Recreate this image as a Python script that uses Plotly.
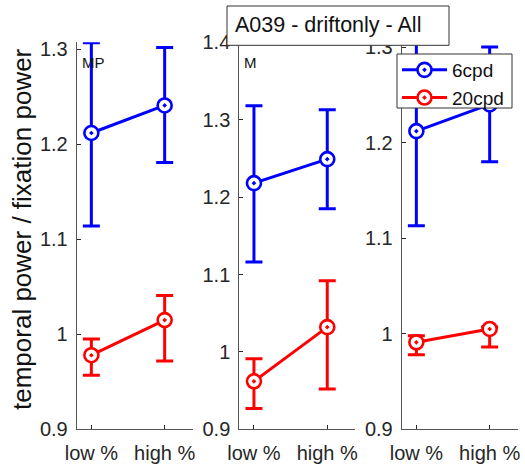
import plotly.graph_objects as go

# Condition groups on the x axis
x_pos = [1, 2]
x_labels = ["low %", "high %"]
panels = ["MP", "M"]

# Mean ratio (temporal power / fixation power) per panel, low % then high %
mp_6cpd = [1.212, 1.241]
mp_6cpd_up = [0.095, 0.061]
mp_6cpd_dn = [0.098, 0.060]
mp_20cpd = [0.978, 1.015]
mp_20cpd_up = [0.017, 0.026]
mp_20cpd_dn = [0.021, 0.043]

m_6cpd = [1.218, 1.249]
m_6cpd_up = [0.100, 0.064]
m_6cpd_dn = [0.102, 0.064]
m_20cpd = [0.962, 1.032]
m_20cpd_up = [0.029, 0.060]
m_20cpd_dn = [0.035, 0.080]

p_6cpd = [1.212, 1.240]
p_6cpd_up = [0.093, 0.060]
p_6cpd_dn = [0.099, 0.060]
p_20cpd = [0.991, 1.005]
p_20cpd_up = [0.007, 0.002]
p_20cpd_dn = [0.013, 0.019]

# y-axis limits and ticks per panel
y_ranges = [[0.9, 1.3075], [0.9, 1.4], [0.9, 1.305]]
y_ticks = [
    [0.9, 1.0, 1.1, 1.2, 1.3],
    [0.9, 1.0, 1.1, 1.2, 1.3, 1.4],
    [0.9, 1.0, 1.1, 1.2, 1.3],
]
y_ticktext = [
    ["0.9", "1", "1.1", "1.2", "1.3"],
    ["0.9", "1", "1.1", "1.2", "1.3", "1.4"],
    ["0.9", "1", "1.1", "1.2", "1.3"],
]

W, H = 525, 464
FONT = "Liberation Sans, Arial, Helvetica, sans-serif"
AX = "#262626"
BLUE = "#0000ff"
RED = "#ff0000"

# pixel boxes of the three axes (left, right, top, bottom)
boxes = [(76.7, 193.0, 42.3, 429.3), (239.3, 355.0, 42.3, 429.3), (401.7, 517.7, 42.3, 429.3)]

series = [
    [(mp_6cpd, mp_6cpd_up, mp_6cpd_dn), (mp_20cpd, mp_20cpd_up, mp_20cpd_dn)],
    [(m_6cpd, m_6cpd_up, m_6cpd_dn), (m_20cpd, m_20cpd_up, m_20cpd_dn)],
    [(p_6cpd, p_6cpd_up, p_6cpd_dn), (p_20cpd, p_20cpd_up, p_20cpd_dn)],
]
names = ["6cpd", "20cpd"]
colors = [BLUE, RED]

fig = go.Figure()
for i, panel in enumerate(series):
    xa = "x" if i == 0 else f"x{i+1}"
    ya = "y" if i == 0 else f"y{i+1}"
    for j, (mean, up, dn) in enumerate(panel):
        fig.add_trace(go.Scatter(
            x=x_pos, y=mean, xaxis=xa, yaxis=ya,
            mode="lines+markers", name=names[j],
            showlegend=(i == 0), legendgroup=names[j],
            line=dict(color=colors[j], width=3),
            marker=dict(symbol="circle-dot", size=14, color="white",
                        line=dict(color=colors[j], width=2.6)),
            error_y=dict(type="data", symmetric=False, array=up, arrayminus=dn,
                         color=colors[j], thickness=3, width=8.5),
        ))

# legend frame (white box); the legend itself is drawn transparent on top of it
LEG = (397, 512, 54, 108)

layout = dict(
    width=W, height=H,
    margin=dict(l=0, r=0, t=0, b=0, autoexpand=False),
    paper_bgcolor="white", plot_bgcolor="white",
    font=dict(family=FONT, size=20, color=AX),
    showlegend=True,
    legend=dict(x=LEG[0] / W, y=1 - (LEG[2] - 3) / H, xanchor="left", yanchor="top",
                bgcolor="rgba(0,0,0,0)", borderwidth=0,
                font=dict(family=FONT, size=19, color="#111111"),
                itemwidth=45, tracegroupgap=0),
)

for i, (l, r, t, b) in enumerate(boxes):
    sx = "" if i == 0 else str(i + 1)
    layout[f"xaxis{sx}"] = dict(
        domain=[l / W, r / W], range=[0.8, 0.8 + (r - l) / 73.3],
        anchor=f"y{sx}", tickmode="array", tickvals=x_pos, ticktext=x_labels,
        ticks="inside", ticklen=4, tickcolor=AX, showline=True, linecolor="#555555",
        linewidth=1, showgrid=False, zeroline=False, ticklabelstandoff=6,
        tickfont=dict(family=FONT, size=20, color=AX), fixedrange=True,
    )
    layout[f"yaxis{sx}"] = dict(
        domain=[1 - b / H, 1 - t / H], range=y_ranges[i],
        anchor=f"x{sx}", tickmode="array", tickvals=y_ticks[i], ticktext=y_ticktext[i],
        ticks="inside", ticklen=4, tickcolor=AX, showline=True, linecolor="#555555",
        linewidth=1, showgrid=False, zeroline=False, ticklabelstandoff=4,
        tickfont=dict(family=FONT, size=20, color=AX), fixedrange=True,
    )

fig.update_layout(**layout)

fig.add_shape(type="rect", xref="paper", yref="paper",
              x0=LEG[0] / W, x1=LEG[1] / W, y0=1 - LEG[3] / H, y1=1 - LEG[2] / H,
              line=dict(color="#333333", width=1), fillcolor="white", layer="above")

# panel tags in the upper-left corner of the first two axes
for i, tag in enumerate(panels):
    sx = "" if i == 0 else str(i + 1)
    fig.add_annotation(text=tag, x=0.025, y=0.975, xref=f"x{sx} domain", yref=f"y{sx} domain",
                       xanchor="left", yanchor="top", showarrow=False,
                       font=dict(family=FONT, size=15, color="#111111"))

# y-axis title
fig.add_annotation(text="temporal power / fixation power", x=22 / W, y=1 - 229 / H,
                   xref="paper", yref="paper", textangle=-90, showarrow=False,
                   xanchor="center", yanchor="middle",
                   font=dict(family=FONT, size=26, color="#111111"))

# boxed figure title
fig.add_shape(type="rect", xref="paper", yref="paper",
              x0=227 / W, x1=449 / W, y0=1 - 45.3 / H, y1=1 - 6 / H,
              line=dict(color="#333333", width=1), fillcolor="white", layer="above")
fig.add_annotation(text="A039 - driftonly - All", x=233 / W, y=1 - 25.5 / H,
                   xref="paper", yref="paper", xanchor="left", yanchor="middle",
                   showarrow=False, font=dict(family=FONT, size=21.5, color="#111111"))

fig.write_html("out.html")
